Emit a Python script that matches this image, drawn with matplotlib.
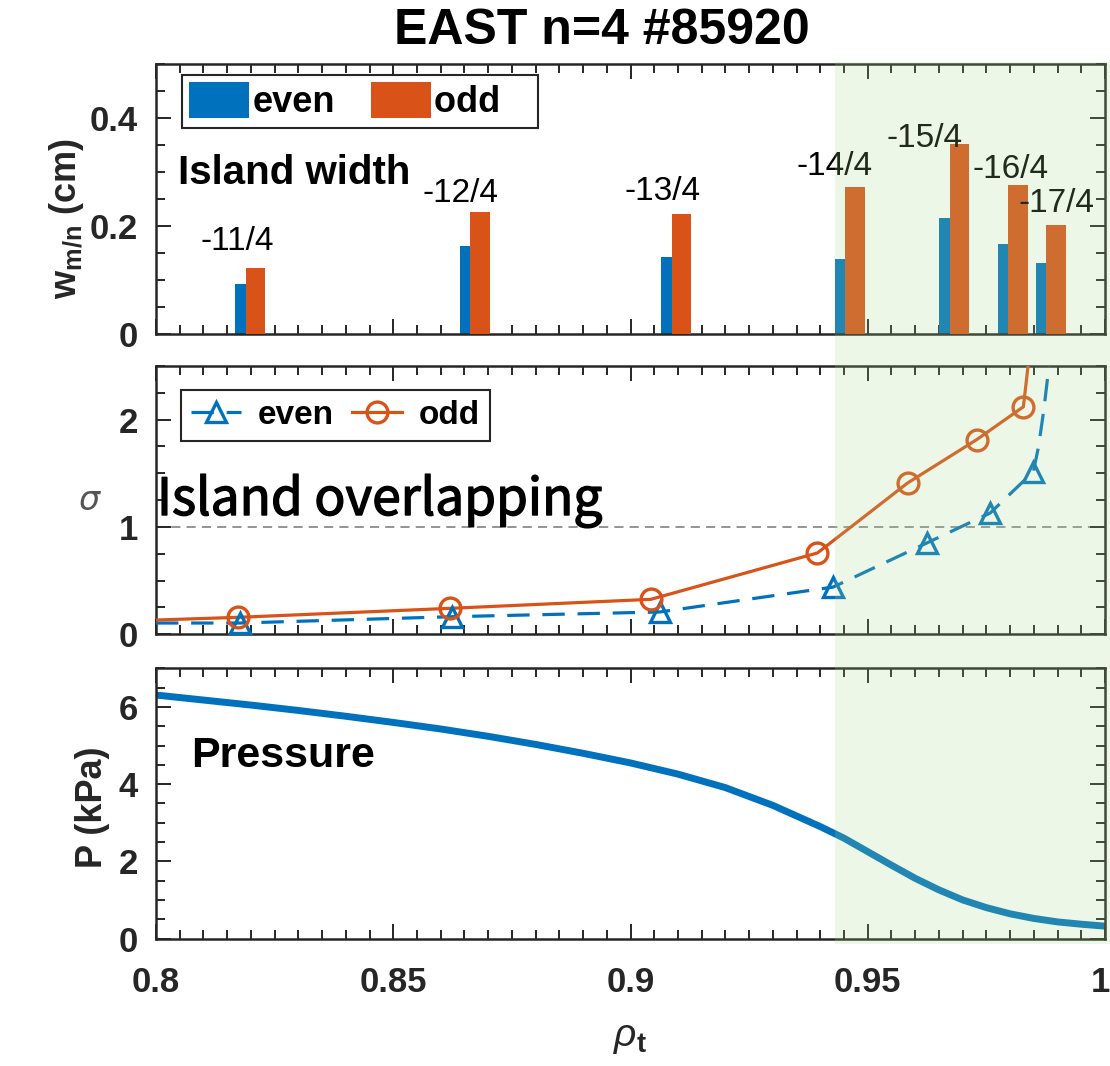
import numpy as np
import matplotlib
matplotlib.use('Agg')
import matplotlib.pyplot as plt
import matplotlib.transforms as mtransforms
import matplotlib.patheffects as pe
from matplotlib.patches import Rectangle
from matplotlib.ticker import MultipleLocator

plt.rcParams['font.family'] = ['Liberation Sans', 'DejaVu Sans']
plt.rcParams['mathtext.fontset'] = 'custom'
plt.rcParams['mathtext.rm'] = 'Liberation Sans'
plt.rcParams['mathtext.it'] = 'Liberation Sans:italic'
plt.rcParams['mathtext.bf'] = 'Liberation Sans:bold'

# ---- data ----
modes = ['-11/4', '-12/4', '-13/4', '-14/4', '-15/4', '-16/4', '-17/4']
rho_res = [0.8199, 0.8672, 0.9096, 0.9462, 0.9682, 0.9806, 0.9886]
w_even = [0.093, 0.163, 0.143, 0.139, 0.216, 0.167, 0.132]
w_odd = [0.122, 0.226, 0.222, 0.273, 0.352, 0.277, 0.203]

rho_sig_even = [0.800, 0.8177, 0.8623, 0.9062, 0.9427, 0.9624, 0.9758, 0.9849, 0.9860, 0.9871, 0.9882, 0.9886]
sig_even = [0.105, 0.105, 0.164, 0.208, 0.44, 0.85, 1.13, 1.515, 1.75, 2.09, 2.5, 2.7]
rho_sig_odd = [0.800, 0.8173, 0.8620, 0.9043, 0.9394, 0.9584, 0.9730, 0.9828, 0.9843]
sig_odd = [0.133, 0.158, 0.242, 0.326, 0.758, 1.41, 1.815, 2.12, 2.7]
n_mark = 7   # markers only on the 7 computed points (after the edge point)

rho_p = [0.800, 0.810, 0.820, 0.830, 0.840, 0.850, 0.860, 0.870, 0.880, 0.890,
         0.900, 0.910, 0.920, 0.930, 0.940, 0.945, 0.950, 0.955, 0.960, 0.965,
         0.970, 0.975, 0.980, 0.985, 0.990, 0.995, 1.000]
pres = [6.31, 6.18, 6.05, 5.91, 5.76, 5.60, 5.43, 5.24, 5.03, 4.80,
        4.55, 4.26, 3.91, 3.45, 2.90, 2.60, 2.25, 1.90, 1.56, 1.26,
        1.00, 0.80, 0.64, 0.52, 0.43, 0.37, 0.32]

rho_edge = 0.9431  # start of shaded region

xticks = [0.8, 0.85, 0.9, 0.95, 1.0]
xticklabels = ['0.8', '0.85', '0.9', '0.95', '1']

blue = '#0072BD'
orange = '#D95319'
dark = '#262626'

# label layout (data coords of each mode label)
label_pos = [(0.8171, 0.156), (0.8641, 0.245), (0.9067, 0.248), (0.9430, 0.295),
             (0.9619, 0.347), (0.9802, 0.289), (0.9898, 0.227)]

W, H = 1110, 1066
fig = plt.figure(figsize=(W / 100, H / 100), dpi=100)

def frac(l, t, r, b):
    return [l / W, 1 - b / H, (r - l) / W, (b - t) / H]

ax1 = fig.add_axes(frac(156, 64, 1105, 334.3))
ax2 = fig.add_axes(frac(156, 366, 1105, 634.3))
ax3 = fig.add_axes(frac(156, 668.4, 1105, 938.5))

def style(ax, yticks, ymin, show_x):
    ax.set_xlim(0.8, 1.0)
    ax.set_xticks(xticks)
    ax.xaxis.set_minor_locator(MultipleLocator(0.005))
    ax.set_yticks(yticks)
    ax.set_yticklabels(['%g' % v for v in yticks], fontweight='bold')
    ax.yaxis.set_minor_locator(MultipleLocator(ymin))
    ax.tick_params(which='both', direction='in', top=True, right=True,
                   color=dark, width=1.4, labelsize=25, labelcolor=dark)
    ax.tick_params(which='major', length=11, pad=13)
    ax.tick_params(which='minor', length=6.5)
    for s in ax.spines.values():
        s.set_linewidth(1.8)
        s.set_color(dark)
    if show_x:
        ax.set_xticklabels(xticklabels, fontweight='bold')
        ax.tick_params(axis='x', pad=20)
    else:
        ax.set_xticklabels([])

# ---- top: island widths ----
bw = 0.0041
dx = 0.0022
rr = np.array(rho_res)
ax1.bar(rr - dx / 2, w_even, width=bw, color=blue, label='even', zorder=2)
ax1.bar(rr + dx / 2, w_odd, width=bw, color=orange, label='odd   ', zorder=3)
ax1.set_ylim(0, 0.5)
style(ax1, [0, 0.2, 0.4], 0.05, False)
for m, (lx, ly) in zip(modes, label_pos):
    ax1.text(lx, ly, m, fontsize=24, ha='center', va='baseline', zorder=5)
ax1.text(0.0232, 0.556, 'Island width', transform=ax1.transAxes, fontsize=29,
         fontweight='bold', va='baseline')
leg1 = ax1.legend(loc='upper left', bbox_to_anchor=(0.0274, 0.959), ncol=2,
                  borderaxespad=0, prop={'weight': 'bold', 'size': 26},
                  handlelength=1.65, handleheight=1.15, handletextpad=0.1,
                  columnspacing=1.0, borderpad=0.2, fancybox=False, framealpha=1)
leg1.get_frame().set_edgecolor(dark)
leg1.get_frame().set_linewidth(1.5)

# ---- middle: overlapping parameter ----
ax2.axhline(1, color='#777777', lw=1.1, ls=(0, (6, 4)), zorder=1)
ax2.plot(rho_sig_even, sig_even, color=blue, lw=2.3, ls=(0, (7, 4)), zorder=3)
ax2.plot(rho_sig_odd, sig_odd, color=orange, lw=2.3, zorder=3)
ax2.plot(rho_sig_even[1:1 + n_mark], sig_even[1:1 + n_mark], ls='none',
         marker='^', ms=15, mfc='none', mec=blue, mew=2.4, zorder=4)
ax2.plot(rho_sig_odd[1:1 + n_mark], sig_odd[1:1 + n_mark], ls='none',
         marker='o', ms=15, mfc='none', mec=orange, mew=2.4, zorder=4)
h_even, = ax2.plot([], [], color=blue, lw=2.3, ls=(0, (7, 4)), marker='^', ms=15,
                   mfc='none', mec=blue, mew=2.4, label='even')
h_odd, = ax2.plot([], [], color=orange, lw=2.3, marker='o', ms=15,
                  mfc='none', mec=orange, mew=2.4, label='odd')
ax2.set_ylim(0, 2.5)
style(ax2, [0, 1, 2], 0.25, False)
ax2.text(0.001, 0.4446, 'Island overlapping', transform=ax2.transAxes,
         fontsize=37, family=['Noto Sans CJK SC', 'DejaVu Sans'], va='baseline', zorder=5,
         path_effects=[pe.withStroke(linewidth=1.0, foreground='black')])
leg2 = ax2.legend(handles=[h_even, h_odd], loc='upper left', bbox_to_anchor=(0.026, 0.9105),
                  ncol=2, borderaxespad=0, prop={'weight': 'bold', 'size': 24},
                  handlelength=1.5, handletextpad=0.5, columnspacing=0.55,
                  borderpad=0.3, fancybox=False, framealpha=1)
leg2.get_frame().set_edgecolor(dark)
leg2.get_frame().set_linewidth(1.5)

# ---- bottom: pressure ----
ax3.plot(rho_p, pres, color=blue, lw=5, solid_capstyle='butt', solid_joinstyle='round')
ax3.set_ylim(0, 7)
style(ax3, [0, 2, 4, 6], 0.5, True)
ax3.text(0.0369, 0.636, 'Pressure', transform=ax3.transAxes, fontsize=31,
         fontweight='bold', va='baseline')
# keep the last tick label "1" inside the figure
last = ax3.get_xticklabels()[-1]
last.set_transform(last.get_transform() +
                   mtransforms.ScaledTranslation(-0.05, 0, fig.dpi_scale_trans))

# ---- labels ----
fig.text(601.5 / W, 1 - 31 / H, 'EAST n=4 #85920', fontsize=36, fontweight='bold',
         ha='center', va='center')
fig.text(66 / W, 1 - 218 / H, r'$\mathbf{w}_{\mathbf{m/n}}$ (cm)', fontsize=26,
         fontweight='bold', rotation=90, ha='center', va='center', color=dark)
fig.text(90 / W, 1 - 500 / H, 'σ', fontsize=24, style='italic', family='DejaVu Sans',
         color='#555555', ha='center', va='center')
fig.text(93 / W, 1 - 807 / H, 'P (kPa)', fontsize=26, fontweight='bold', rotation=90,
         ha='center', va='center', color=dark)
fig.text(630 / W, 1 - 1038 / H, r'$\rho_{\mathbf{t}}$', fontsize=28, color=dark,
         ha='center', va='center')

# ---- shaded edge region across all panels ----
x0 = fig.transFigure.inverted().transform(ax3.transData.transform((rho_edge, 0)))[0]
fig.patches.append(Rectangle((x0, 1 - 944 / H), 1 - x0, (944 - 62) / H,
                             transform=fig.transFigure, facecolor='#A6D788',
                             edgecolor='none', alpha=0.2, zorder=10))

fig.savefig('out.png', dpi=100, facecolor='white')
